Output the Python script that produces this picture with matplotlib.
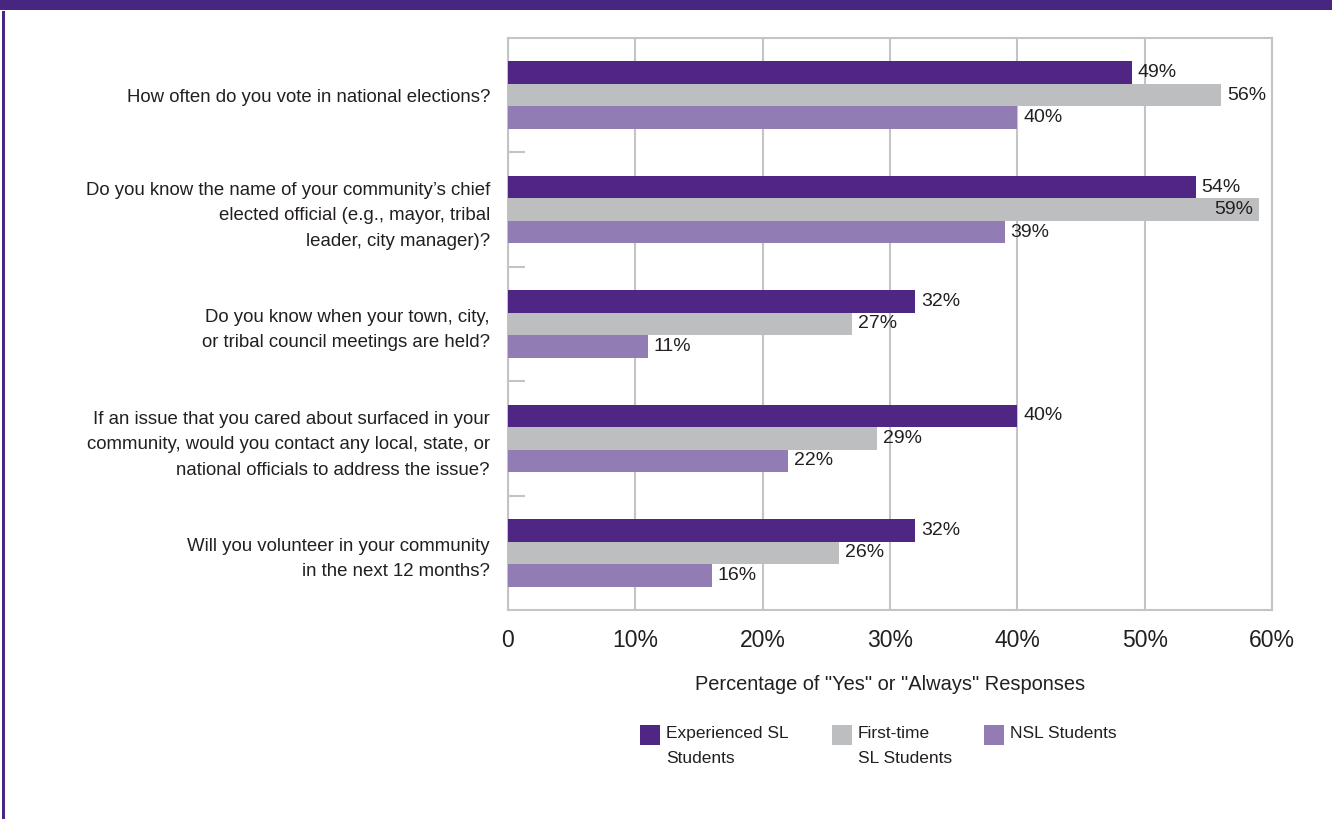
import matplotlib.pyplot as plt
from matplotlib.patches import Rectangle
import numpy as np

plt.rcParams['font.family'] = ['Liberation Sans', 'DejaVu Sans']

QUESTIONS = ['How often do you vote in national elections?',
             "Do you know the name of your community\u2019s chief\nelected official (e.g., mayor, tribal\nleader, city manager)?",
             'Do you know when your town, city,\nor tribal council meetings are held?',
             'If an issue that you cared about surfaced in your\ncommunity, would you contact any local, state, or\nnational officials to address the issue?',
             'Will you volunteer in your community\nin the next 12 months?']
SERIES = ['Experienced SL\nStudents', 'First-time\nSL Students', 'NSL Students']
EXPERIENCED = [49, 54, 32, 40, 32]
FIRST_TIME = [56, 59, 27, 29, 26]
NSL = [40, 39, 11, 22, 16]
XTICKS = [0, 10, 20, 30, 40, 50, 60]
XTICK_LABELS = ['0', '10%', '20%', '30%', '40%', '50%', '60%']

COLORS = ['#4F2683', '#BCBEC0', '#917CB4']
TEXT = '#231F20'
GRID = '#C4C4C6'
W, H = 1332, 819

# ----------------------------------------------------------------------------------------------------
fig = plt.figure(figsize=(W / 100, H / 100), dpi=100)
fig.patch.set_facecolor('white')

# banner and left border
fig.add_artist(Rectangle((0, 1 - 9.5 / H), 1, 9.5 / H, transform=fig.transFigure,
                         facecolor='#47267F', edgecolor='none'))
fig.add_artist(Rectangle((2 / W, 0), 2.5 / W, 1 - 11 / H, transform=fig.transFigure,
                         facecolor='#47267F', edgecolor='none'))

ax = fig.add_axes([508 / W, 1 - 610 / H, 764 / W, 572 / H])

y = np.arange(len(QUESTIONS))
h = 0.197
for i, vals in enumerate([EXPERIENCED, FIRST_TIME, NSL]):
    pos = y + (i - 1) * h
    ax.barh(pos, vals, height=h, color=COLORS[i], zorder=3)
    for p, v in zip(pos, vals):
        if v >= 58:
            ax.text(v - 0.5, p, f'{v}%', ha='right', va='center', fontsize=14, color=TEXT, zorder=4)
        else:
            ax.text(v + 0.45, p, f'{v}%', ha='left', va='center', fontsize=14, color=TEXT, zorder=4)

ax.set_xlim(0, 60)
ax.set_ylim(len(QUESTIONS) - 0.5, -0.5)
ax.set_xticks(XTICKS)
ax.set_xticklabels(XTICK_LABELS, fontsize=16.5, color=TEXT)
ax.tick_params(axis='x', length=0, pad=14)
ax.set_yticks(y)
ax.set_yticklabels(QUESTIONS, fontsize=13.4, color=TEXT, linespacing=1.65)
ax.tick_params(axis='y', which='major', length=0, pad=13)
ax.set_yticks(y[:-1] + 0.5, minor=True)
ax.tick_params(axis='y', which='minor', direction='in', length=12, width=1.5, color=GRID)
ax.grid(axis='x', color=GRID, linewidth=1.5, zorder=0)
for s in ax.spines.values():
    s.set_color(GRID)
    s.set_linewidth(1.5)

ax.set_xlabel('Percentage of "Yes" or "Always" Responses', fontsize=14.4, color=TEXT, labelpad=16)

# legend drawn by hand so the swatch sits on the first text line
leg_x = [640, 832, 984]
for i, lab in enumerate(SERIES):
    fig.add_artist(Rectangle((leg_x[i] / W, 1 - 745 / H), 20 / W, 20 / H,
                             transform=fig.transFigure, facecolor=COLORS[i], edgecolor='none'))
    fig.text((leg_x[i] + 26) / W, 1 - 726 / H, lab, fontsize=12.5, color=TEXT,
             ha='left', va='top', linespacing=1.8)

fig.savefig('out.png', dpi=100)
